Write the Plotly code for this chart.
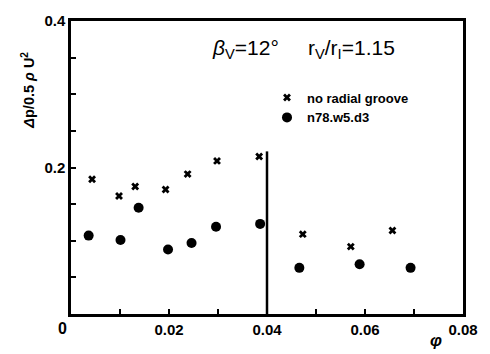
import plotly.graph_objects as go

# ---- data ----
cross_x = [0.0043, 0.0098, 0.0131, 0.0193, 0.0238, 0.0298, 0.0384, 0.0473, 0.0571, 0.0656]
cross_y = [0.184, 0.161, 0.174, 0.170, 0.191, 0.209, 0.215, 0.109, 0.092, 0.114]
dot_x = [0.0036, 0.0101, 0.0138, 0.0198, 0.0246, 0.0296, 0.0386, 0.0466, 0.0589, 0.0693]
dot_y = [0.107, 0.101, 0.145, 0.088, 0.097, 0.119, 0.123, 0.063, 0.068, 0.063]
divider_x = 0.04
divider_top = 0.222

x_tickvals = [0, 0.01, 0.02, 0.03, 0.04, 0.05, 0.06, 0.07, 0.08]
x_ticktext = ["", "", "<b>0.02</b>", "", "<b>0.04</b>", "", "<b>0.06</b>", "", "<b>0.08</b>"]
y_tickvals = [0, 0.05, 0.1, 0.15, 0.2, 0.25, 0.3, 0.35, 0.4]
y_ticktext = ["", "", "", "", "<b>0.2</b>", "", "", "", "<b>0.4</b>"]

FONT = "Liberation Sans, Arial, sans-serif"

fig = go.Figure()
fig.add_trace(go.Scatter(
    x=cross_x, y=cross_y, mode="markers", name="<b>no radial groove</b>",
    marker=dict(symbol="x", size=7, color="black", line=dict(width=0)),
))
fig.add_trace(go.Scatter(
    x=dot_x, y=dot_y, mode="markers", name="<b>n78.w5.d3</b>",
    marker=dict(symbol="circle", size=10, color="black"),
))

fig.add_shape(type="line", xref="x", yref="y",
              x0=divider_x, x1=divider_x, y0=0, y1=divider_top,
              line=dict(color="black", width=2.5))

axis_common = dict(
    showgrid=False, zeroline=False, showline=True, linecolor="black", linewidth=2.5,
    mirror=True, ticks="inside", ticklen=5, tickwidth=1.5, tickcolor="black",
    tickfont=dict(family=FONT, size=15, color="black"),
)
fig.update_xaxes(range=[0, 0.08], tickmode="array", tickvals=x_tickvals,
                 ticktext=x_ticktext, **axis_common)
fig.update_yaxes(range=[0, 0.4], tickmode="array", tickvals=y_tickvals,
                 ticktext=y_ticktext, **axis_common)

fig.add_annotation(text="<b>0</b>", xref="paper", yref="paper", x=-0.022, y=-0.015,
                   xanchor="center", yanchor="top", showarrow=False,
                   font=dict(family=FONT, size=16, color="black"))
fig.add_annotation(text="<b><i>φ</i></b>", xref="paper", yref="paper", x=0.932, y=-0.05,
                   xanchor="center", yanchor="top", showarrow=False,
                   font=dict(family=FONT, size=17, color="black"))
fig.add_annotation(text="<b><i>Δ</i>p/0.5 <i>ρ</i> U<sup>2</sup></b>", xref="paper", yref="paper",
                   x=-0.11, y=0.765, xanchor="center", yanchor="middle", textangle=-90,
                   showarrow=False,
                   font=dict(family=FONT, size=14.5, color="black"))
fig.add_annotation(text="<i>β</i><sub>V</sub>=12°     r<sub>V</sub>/r<sub>I</sub>=1.15",
                   xref="paper", yref="paper", x=0.355, y=0.905,
                   xanchor="left", yanchor="middle", showarrow=False,
                   font=dict(family=FONT, size=21, color="black"))

fig.update_layout(
    width=490, height=354,
    margin=dict(l=71, r=20, t=16, b=40),
    paper_bgcolor="white", plot_bgcolor="white",
    showlegend=True,
    legend=dict(x=0.5, y=0.79, xanchor="left", yanchor="top",
                bgcolor="rgba(0,0,0,0)", borderwidth=0, tracegroupgap=0,
                font=dict(family=FONT, size=13, color="black")),
)

fig.write_html("out.html")
